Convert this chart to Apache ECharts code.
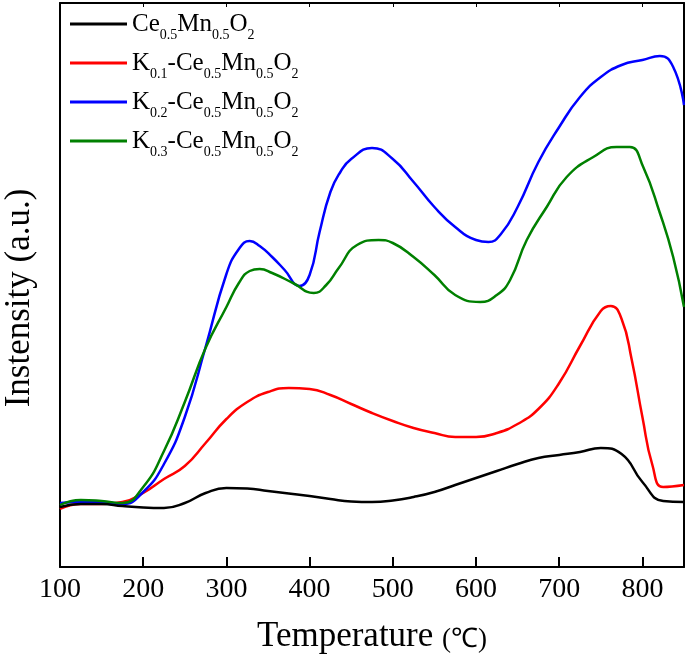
<!DOCTYPE html>
<html>
<head>
<meta charset="utf-8">
<script src="https://cdn.jsdelivr.net/npm/echarts@6/dist/echarts.min.js"></script>
<style>html,body{margin:0;padding:0;background:#fff}#c{width:685px;height:666px}</style>
</head>
<body>
<div id="c"></div>
<script>
var seriesNames = ['Ce0.5Mn0.5O2', 'K0.1-Ce0.5Mn0.5O2', 'K0.2-Ce0.5Mn0.5O2', 'K0.3-Ce0.5Mn0.5O2'];
var xTicks = [100, 200, 300, 400, 500, 600, 700, 800];

var ceMn = [[100,60],[125,63],[150,63],[175,61],[200,59.5],[225,59],[250,64],[275,74],[300,79],[325,78.5],[350,76],[375,73.5],[400,71],[425,68],[450,65.5],[475,65],[500,66.5],[525,70],[550,75],[575,82],[600,89],[625,96],[650,103],[675,109],[700,112],[725,115],[750,119],[775,113],[800,85],[825,66],[850,65]];
var k01 = [[100,58],[125,63],[150,63],[175,65],[200,74],[225,88],[250,101],[275,124],[300,148],[325,165],[350,175],[375,179],[400,178],[425,172],[450,163],[475,154],[500,146],[525,139],[550,134],[575,130],[600,130],[625,134],[650,143],[675,158],[700,184],[725,221],[750,256],[762,261],[775,248],[787,208],[800,150],[812,102],[825,80],[850,82]];
var k02 = [[100,64],[125,65],[150,65],[175,63],[200,75],[225,103],[250,150],[275,220],[300,293],[315,318],[328,326],[340,321],[355,310],[370,297],[388,281],[400,292],[412,335],[425,375],[437,395],[450,408],[475,419],[500,408],[525,385],[550,360],[575,340],[600,327],[615,325],[630,333],[650,360],[675,405],[700,440],[725,470],[750,490],[775,502],[800,507],[821,511],[837,500],[850,462]];
var k03 = [[100,62],[125,67],[150,66],[175,64],[200,80],[225,116],[250,165],[275,219],[300,260],[315,284],[328,296],[340,298],[355,294],[380,284],[405,274],[420,282],[435,299],[457,322],[483,327],[500,324],[525,310],[550,292],[575,272],[605,265],[625,272],[641,287],[661,327],[685,360],[709,390],[741,410],[769,420],[785,420],[801,400],[821,354],[837,310],[850,260]];

var legendRich = {
  'Ce0.5Mn0.5O2': '{n|Ce}{s|0.5}{n|Mn}{s|0.5}{n|O}{s|2}',
  'K0.1-Ce0.5Mn0.5O2': '{n|K}{s|0.1}{n|-Ce}{s|0.5}{n|Mn}{s|0.5}{n|O}{s|2}',
  'K0.2-Ce0.5Mn0.5O2': '{n|K}{s|0.2}{n|-Ce}{s|0.5}{n|Mn}{s|0.5}{n|O}{s|2}',
  'K0.3-Ce0.5Mn0.5O2': '{n|K}{s|0.3}{n|-Ce}{s|0.5}{n|Mn}{s|0.5}{n|O}{s|2}'
};
var colors = ['#000000', '#ff0000', '#0000ff', '#008000'];
var FONT = "'Liberation Serif', 'Times New Roman', serif";

var chart = echarts.init(document.getElementById('c'));
var datas = [ceMn, k01, k02, k03];
var series = seriesNames.map(function (n, i) {
  return {
    name: n, type: 'line', data: datas[i], smooth: 0.5, showSymbol: false, symbol: 'none',
    lineStyle: {color: colors[i], width: 2.5}, itemStyle: {color: colors[i]}, z: 2 + (i === 0 ? 3 : i)
  };
});

chart.setOption({
  animation: false,
  backgroundColor: '#fff',
  grid: {left: 60, right: 1, top: 3, bottom: 99, containLabel: false, outerBoundsMode: 'none'},
  legend: {
    orient: 'vertical', left: 70, top: 6, padding: 0, itemWidth: 57, itemHeight: 3, itemGap: 3,
    icon: 'rect', data: seriesNames,
    formatter: function (n) { return legendRich[n]; },
    textStyle: {
      fontFamily: FONT, color: '#000',
      rich: {
        n: {fontSize: 25, fontFamily: FONT, color: '#000', lineHeight: 26},
        s: {fontSize: 14, fontFamily: FONT, color: '#000', lineHeight: 26, padding: [22, 0, 0, 0]}
      }
    }
  },
  xAxis: [{
    type: 'value', position: 'bottom', min: 100, max: 850, interval: 100,
    axisLine: {show: true, onZero: false, lineStyle: {color: '#000', width: 2}},
    axisTick: {show: true, inside: true, length: 10, lineStyle: {color: '#000', width: 2}},
    axisLabel: {
      show: true, margin: 9, color: '#000', fontFamily: FONT, fontSize: 28, showMaxLabel: false,
      formatter: function (v) { return xTicks.indexOf(v) >= 0 ? String(v) : ''; }
    },
    splitLine: {show: false},
    name: 'Temperature {u|(℃)}', nameLocation: 'middle', nameGap: 52,
    nameTextStyle: {
      color: '#000', fontFamily: FONT, fontSize: 35,
      rich: {u: {fontSize: 27, fontFamily: FONT, color: '#000', padding: [6, 0, 0, 0]}}
    }
  }, {
    type: 'value', position: 'top', min: 100, max: 850, interval: 100,
    axisLine: {show: true, onZero: false, lineStyle: {color: '#000', width: 2}},
    axisTick: {show: true, inside: true, length: 4, lineStyle: {color: '#000', width: 1}},
    axisLabel: {show: false}, splitLine: {show: false}
  }],
  yAxis: [{
    type: 'value', position: 'left', min: 0, max: 564,
    axisLine: {show: true, onZero: false, lineStyle: {color: '#000', width: 2}},
    axisTick: {show: false}, axisLabel: {show: false}, splitLine: {show: false},
    name: 'Instensity (a.u.)', nameLocation: 'middle', nameGap: 23,
    nameTextStyle: {color: '#000', fontFamily: FONT, fontSize: 35, padding: [0, 26, 0, 0]}
  }, {
    type: 'value', position: 'right', min: 0, max: 564,
    axisLine: {show: true, onZero: false, lineStyle: {color: '#000', width: 2}},
    axisTick: {show: false}, axisLabel: {show: false}, splitLine: {show: false}
  }],
  series: series
});
</script>
</body>
</html>
